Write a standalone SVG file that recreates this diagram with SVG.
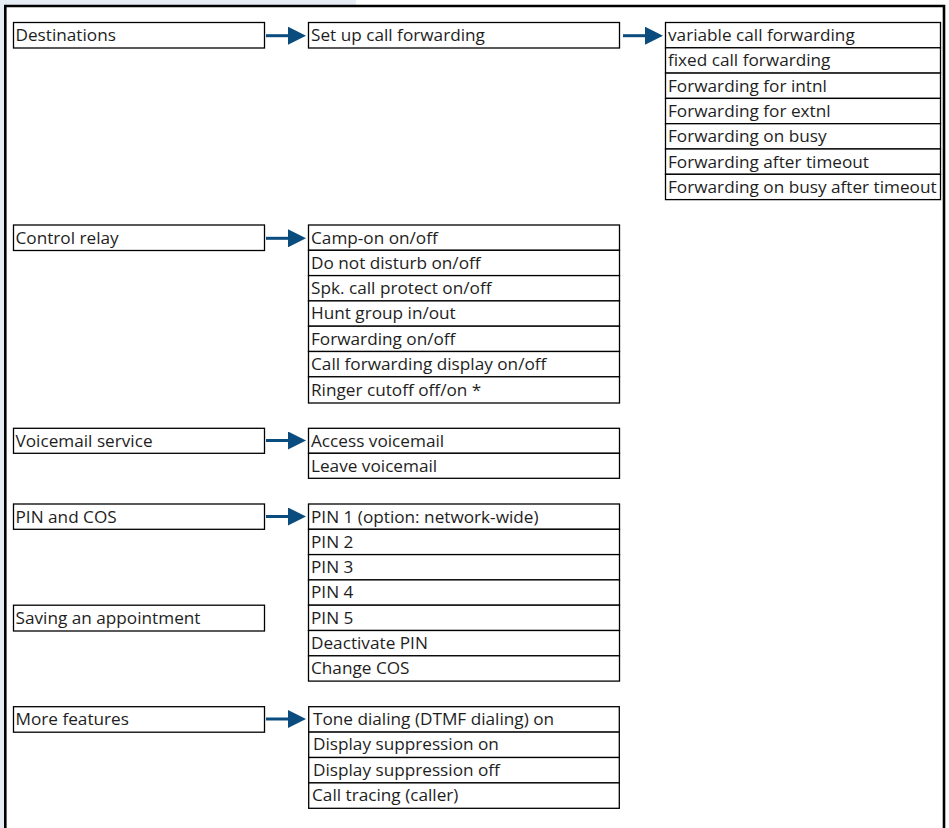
<svg xmlns="http://www.w3.org/2000/svg" width="949" height="828" viewBox="0 0 949 828">
<style>
.box{fill:#fff;stroke:#000;stroke-width:1.3}
.t{font-family:"Open Sans","Liberation Sans",sans-serif;font-size:17.2px;fill:#1e1e1e}
.arr{stroke:#0b4c7e;stroke-width:3;fill:none}
</style>
<defs>
<marker id="ah" markerUnits="userSpaceOnUse" markerWidth="19" markerHeight="18" refX="2" refY="9" orient="auto" viewBox="0 0 19 18">
<path d="M0,0 L18,9 L0,18 z" fill="#0b4c7e"/>
</marker>
</defs>
<rect x="0" y="0" width="949" height="828" fill="#fff"/>
<rect x="0" y="0" width="356" height="5" fill="#e6edf4"/>
<rect x="0" y="0" width="4" height="828" fill="#e6edf4"/>
<path d="M5.3,828 V6 H944 V828" fill="none" stroke="#000" stroke-width="2.6"/>

<g id="destinations"><rect class="box" x="13.5" y="22.5" width="251" height="25.5"/><text class="t" x="15.5" y="41">Destinations</text></g>
<g id="setup-call-forwarding"><rect class="box" x="308.5" y="22.5" width="311" height="25.5"/><text class="t" x="311" y="41">Set up call forwarding</text></g>
<g id="forwarding-options">
<rect class="box" x="665.5" y="22.5" width="275" height="25.3"/><text class="t" x="668" y="41">variable call forwarding</text>
<rect class="box" x="665.5" y="47.8" width="275" height="25.3"/><text class="t" x="668" y="66.3">fixed call forwarding</text>
<rect class="box" x="665.5" y="73.1" width="275" height="25.3"/><text class="t" x="668" y="91.6">Forwarding for intnl</text>
<rect class="box" x="665.5" y="98.4" width="275" height="25.3"/><text class="t" x="668" y="116.9">Forwarding for extnl</text>
<rect class="box" x="665.5" y="123.7" width="275" height="25.3"/><text class="t" x="668" y="142.2">Forwarding on busy</text>
<rect class="box" x="665.5" y="149" width="275" height="25.3"/><text class="t" x="668" y="167.5">Forwarding after timeout</text>
<rect class="box" x="665.5" y="174.3" width="275" height="25.3"/><text class="t" x="668" y="192.8">Forwarding on busy after timeout</text>
</g>

<g id="control-relay"><rect class="box" x="13.5" y="225" width="251" height="25.5"/><text class="t" x="15.5" y="243.5">Control relay</text></g>
<g id="control-relay-options">
<rect class="box" x="308.5" y="225" width="311" height="25.3"/><text class="t" x="311" y="243.5">Camp-on on/off</text>
<rect class="box" x="308.5" y="250.3" width="311" height="25.3"/><text class="t" x="311" y="268.8">Do not disturb on/off</text>
<rect class="box" x="308.5" y="275.6" width="311" height="25.3"/><text class="t" x="311" y="294.1">Spk. call protect on/off</text>
<rect class="box" x="308.5" y="300.9" width="311" height="25.3"/><text class="t" x="311" y="319.4">Hunt group in/out</text>
<rect class="box" x="308.5" y="326.2" width="311" height="25.3"/><text class="t" x="311" y="344.7">Forwarding on/off</text>
<rect class="box" x="308.5" y="351.5" width="311" height="25.3"/><text class="t" x="311" y="370">Call forwarding display on/off</text>
<rect class="box" x="308.5" y="376.8" width="311" height="26.2"/><text class="t" x="311" y="395.5">Ringer cutoff off/on *</text>
</g>

<g id="voicemail-service"><rect class="box" x="13.5" y="428.3" width="251" height="25"/><text class="t" x="15.5" y="446.5">Voicemail service</text></g>
<g id="voicemail-options">
<rect class="box" x="308.5" y="428.3" width="311" height="25"/><text class="t" x="311" y="446.5">Access voicemail</text>
<rect class="box" x="308.5" y="453.3" width="311" height="25"/><text class="t" x="311" y="471.5">Leave voicemail</text>
</g>

<g id="pin-and-cos"><rect class="box" x="13.5" y="504" width="251" height="25.3"/><text class="t" x="15.5" y="522.5">PIN and COS</text></g>
<g id="saving-appointment"><rect class="box" x="13.5" y="605.2" width="251" height="25.8"/><text class="t" x="15.5" y="623.7">Saving an appointment</text></g>
<g id="pin-options">
<rect class="box" x="308.5" y="504" width="311" height="25.3"/><text class="t" x="311" y="522.5">PIN 1 (option: network-wide)</text>
<rect class="box" x="308.5" y="529.3" width="311" height="25.3"/><text class="t" x="311" y="547.8">PIN 2</text>
<rect class="box" x="308.5" y="554.6" width="311" height="25.3"/><text class="t" x="311" y="573.1">PIN 3</text>
<rect class="box" x="308.5" y="579.9" width="311" height="25.3"/><text class="t" x="311" y="598.4">PIN 4</text>
<rect class="box" x="308.5" y="605.2" width="311" height="25.3"/><text class="t" x="311" y="623.7">PIN 5</text>
<rect class="box" x="308.5" y="630.5" width="311" height="25.3"/><text class="t" x="311" y="649">Deactivate PIN</text>
<rect class="box" x="308.5" y="655.8" width="311" height="25.3"/><text class="t" x="311" y="674.3">Change COS</text>
</g>

<g id="more-features"><rect class="box" x="13.5" y="706.7" width="251" height="25.5"/><text class="t" x="15.5" y="725">More features</text></g>
<g id="more-features-options">
<rect class="box" x="308.7" y="706.7" width="310.6" height="25.4"/><text class="t" x="313" y="725">Tone dialing (DTMF dialing) on</text>
<rect class="box" x="308.7" y="732.1" width="310.6" height="25.4"/><text class="t" x="313" y="750.4">Display suppression on</text>
<rect class="box" x="308.7" y="757.5" width="310.6" height="25.4"/><text class="t" x="313" y="775.8">Display suppression off</text>
<rect class="box" x="308.7" y="782.9" width="310.6" height="25.4"/><text class="t" x="312" y="801.2">Call tracing (caller)</text>
</g>

<g id="connectors">
<line class="arr" x1="266" y1="35.7" x2="290" y2="35.7" marker-end="url(#ah)"/>
<line class="arr" x1="623" y1="35.7" x2="647" y2="35.7" marker-end="url(#ah)"/>
<line class="arr" x1="266" y1="238.3" x2="290" y2="238.3" marker-end="url(#ah)"/>
<line class="arr" x1="266" y1="440.5" x2="290" y2="440.5" marker-end="url(#ah)"/>
<line class="arr" x1="266" y1="516.5" x2="290" y2="516.5" marker-end="url(#ah)"/>
<line class="arr" x1="266" y1="719" x2="290" y2="719" marker-end="url(#ah)"/>
</g>
</svg>
